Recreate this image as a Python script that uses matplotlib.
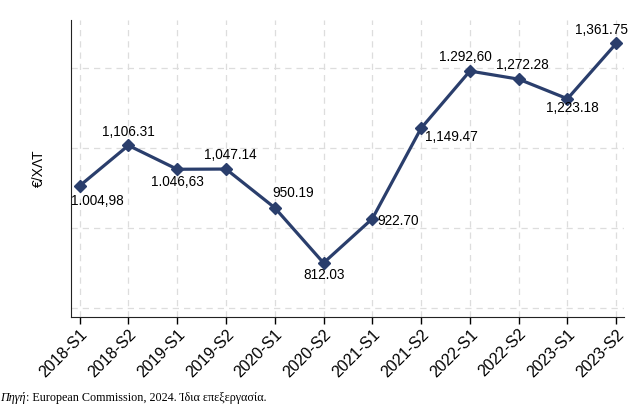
import matplotlib
matplotlib.use("Agg")
import matplotlib.pyplot as plt

# data
periods = ["2018-S1", "2018-S2", "2019-S1", "2019-S2", "2020-S1", "2020-S2",
           "2021-S1", "2021-S2", "2022-S1", "2022-S2", "2023-S1", "2023-S2"]
values = [1004.98, 1106.31, 1046.63, 1047.14, 950.19, 812.03,
          922.70, 1149.47, 1292.60, 1272.28, 1223.18, 1361.75]
labels = ["1.004,98", "1,106.31", "1.046,63", "1,047.14", "950.19", "812.03",
          "922.70", "1,149.47", "1.292,60", "1,272.28", "1,223.18", "1,361.75"]
# label offsets in pixels (dx, dy)
offsets = [(18, -15), (0, 13), (0, -13), (4, 14), (18, 15), (1, -12),
           (26, -2), (30, -9), (-5, 14), (4, 14), (5, -9), (-15, 13)]

navy = "#2a3e6c"
plt.rcParams["font.family"] = ["Liberation Sans", "DejaVu Sans"]

fig = plt.figure(figsize=(6.44, 4.12), dpi=100)
ax = fig.add_axes([0.110, 0.231, 0.859, 0.720])

x = list(range(len(periods)))
ax.plot(x, values, color=navy, lw=2.3, marker="D", ms=6, zorder=3)

for xi, v, lab, (dx, dy) in zip(x, values, labels, offsets):
    ax.annotate(lab, (xi, v), xytext=(dx, dy), textcoords="offset pixels",
                ha="center", va="center", fontsize=9.8, color="black")

ax.set_xlim(-0.18, 11.16)
ax.set_ylim(677, 1420)
ax.set_xticks(x)
ax.set_xticklabels(periods, rotation=45, ha="right", rotation_mode="anchor", fontsize=11.5)
ax.set_yticks([700, 900, 1100, 1300])
ax.tick_params(axis="y", length=0, labelleft=False)
ax.tick_params(axis="x", length=5, width=1, color="black", pad=2)

ax.grid(True, color="#dddddd", ls=(0, (5, 4)), lw=0.9)
ax.set_axisbelow(True)
for s in ["top", "right"]:
    ax.spines[s].set_visible(False)
ax.spines["left"].set_color("#222222")
ax.spines["bottom"].set_color("#222222")

ax.set_ylabel("€/ΧΛΤ", fontsize=10, labelpad=18)

t1 = fig.text(0.0, 0.02, "Πηγή", fontsize=8.7, family="Liberation Serif",
              style="italic", va="bottom")
plt.annotate(": European Commission, 2024. Ίδια επεξεργασία.", xy=(1, 0),
             xycoords=t1, va="bottom", ha="left", fontsize=8.7,
             family="Liberation Serif", annotation_clip=False)

fig.savefig("out.png", dpi=100)
